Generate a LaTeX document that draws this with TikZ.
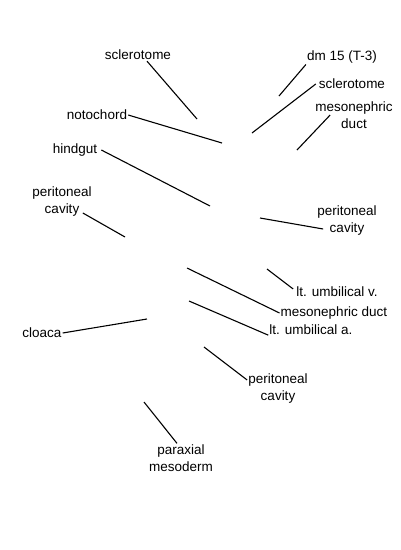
\documentclass[tikz,border=0pt]{standalone}
\usepackage{fontspec}
\setmainfont{Liberation Sans}
\begin{document}
\begin{tikzpicture}[x=1pt,y=-1pt,
    lbl/.style={inner sep=1pt,align=center,font=\fontsize{13.5}{17}\selectfont},
    lead/.style={line width=1.1pt}]
        \useasboundingbox (0,0) rectangle (400,550);
        % labels, left side
		\node[lbl] (scla) at (138,55) {sclerotome};
		\node[lbl] (noto) at (97,115) {notochord};
		\node[lbl] (hind) at (75,150) {hindgut};
		\node[lbl] (pcava) at (62,202) {peritoneal\\cavity};
		\node[lbl] (cloa) at (42,333) {cloaca};
		\node[lbl] (parax) at (181,458) {paraxial\\mesoderm};
        % labels, right side
		\node[lbl] (dm) at (342,57) {dm 15 (T-3)};
		\node[lbl] (sclb) at (352,84) {sclerotome};
		\node[lbl] (mesa) at (354,115) {mesonephric\\duct};
		\node[lbl] (pcavb) at (347,221) {peritoneal\\cavity};
		\node[lbl] (lumv) at (337,292) {lt. umbilical v.};
		\node[lbl] (mesb) at (334,313) {mesonephric duct};
		\node[lbl] (luma) at (311,330) {lt. umbilical a.};
		\node[lbl] (pcavc) at (278,389) {peritoneal\\cavity};

		\coordinate (sclaE) at (197,119);
		\coordinate (notoE) at (222,143);
		\coordinate (hindE) at (210,206);
		\coordinate (pcavaE) at (125,237);
		\coordinate (cloaE) at (147,319);
		\coordinate (paraxE) at (144,402);
		\coordinate (dmE) at (279,96);
		\coordinate (sclbE) at (252,133);
		\coordinate (mesaE) at (297,150);
		\coordinate (pcavbE) at (260,218);
		\coordinate (lumvE) at (267,269);
		\coordinate (mesbE) at (187,268);
		\coordinate (lumaE) at (189,301);
		\coordinate (pcavcE) at (204,347);

		\draw[lead] ([xshift=9pt]scla.south) -- (sclaE);
		\draw[lead] (noto.east) -- (notoE);
		\draw[lead] ([xshift=3pt]hind.east) -- (hindE);
		\draw[lead] ([xshift=-10pt,yshift=5pt]pcava.south east) -- (pcavaE);
		\draw[lead] (cloa.east) -- (cloaE);
		\draw[lead] ([xshift=-4pt]parax.north) -- (paraxE);
		\draw[lead] (dm.south west) -- (dmE);
		\draw[lead] ([xshift=-2pt]sclb.west) -- (sclbE);
		\draw[lead] ([xshift=16pt]mesa.west) -- (mesaE);
		\draw[lead] ([xshift=7pt,yshift=-8pt]pcavb.west) -- (pcavbE);
		\draw[lead] ([xshift=-2pt,yshift=3pt]lumv.west) -- (lumvE);
		\draw[lead] (mesb.west) -- (mesbE);
		\draw[lead] ([yshift=1pt]luma.south west) -- (lumaE);
		\draw[lead] ([yshift=9pt]pcavc.west) -- (pcavcE);
\end{tikzpicture}
\end{document}
